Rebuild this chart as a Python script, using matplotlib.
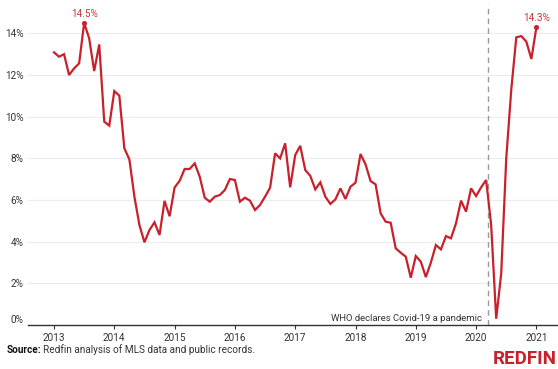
import numpy as np
import matplotlib.pyplot as plt

# monthly share of listings (%), Jan 2013 through Jan 2021
START_YEAR = 2013
share_pct = [
    13.09, 12.88, 13.00, 12.00, 12.32, 12.56, 14.50, 13.76, 12.19, 13.47, 9.76, 9.57,
    11.23, 11.01, 8.48, 7.95, 6.16, 4.80, 3.97, 4.56, 4.93, 4.32, 5.96, 5.22,
    6.60, 6.92, 7.49, 7.49, 7.76, 7.12, 6.11, 5.92, 6.16, 6.24, 6.48, 7.01,
    6.96, 5.92, 6.11, 5.97, 5.52, 5.76, 6.16, 6.59, 8.24, 8.00, 8.72, 6.61,
    8.16, 8.60, 7.44, 7.16, 6.51, 6.85, 6.16, 5.81, 6.03, 6.56, 6.05, 6.64,
    6.83, 8.21, 7.71, 6.91, 6.75, 5.36, 4.96, 4.91, 3.68, 3.47, 3.28, 2.27,
    3.31, 3.04, 2.30, 3.00, 3.84, 3.63, 4.27, 4.16, 4.88, 5.97, 5.44, 6.56,
    6.19, 6.61, 6.96, 4.80, 0.30, 2.48, 8.00, 11.30, 13.81, 13.87, 13.60, 12.77,
    14.30,
]
year_ticks = list(range(2013, 2022))
pct_ticks = list(range(0, 16, 2))
PANDEMIC_DATE = 2020 + 70 / 366   # WHO declaration, March 11 2020
PANDEMIC_NOTE = 'WHO declares Covid-19 a pandemic'

RED = '#c9202b'
LABEL_RED = '#c23a3a'
TEXT = '#333333'
GRID = '#ececec'

plt.rcParams['font.family'] = ['Roboto', 'DejaVu Sans']

months = START_YEAR + np.arange(len(share_pct)) / 12
values = np.array(share_pct)

fig = plt.figure(figsize=(5.58, 3.69), dpi=100)
ax = fig.add_axes([28 / 558, 44 / 369, 530 / 558, 321 / 369])

ax.plot(months, values, color=RED, lw=1.6, solid_joinstyle='miter', zorder=3)

# call out the 2013 peak and the latest value
for idx in (int(np.argmax(values[:24])), len(values) - 1):
    ax.plot(months[idx], values[idx], 'o', ms=2.6, color=RED, zorder=4)
    ax.text(months[idx], values[idx] + 0.18, f'{values[idx]:.1f}%',
            ha='center', va='bottom', fontsize=7.2, color=LABEL_RED)

ax.axvline(PANDEMIC_DATE, color='#9a9a9a', lw=1, ls=(0, (4, 3)), zorder=2)
ax.text(PANDEMIC_DATE - 0.1, 0.32, PANDEMIC_NOTE, ha='right', va='center',
        fontsize=6.8, color=TEXT)

ax.set_xlim(START_YEAR - 26 / 60.3, START_YEAR + 504 / 60.3)
ax.set_ylim(0, 15.41)
ax.set_xticks(year_ticks)
ax.set_xticklabels([str(y) for y in year_ticks])
ax.set_yticks(pct_ticks)
ax.set_yticklabels([f'{p}%' for p in pct_ticks])
ax.tick_params(axis='x', length=3, width=0.8, color=TEXT, pad=2.5,
               labelsize=7.2, labelcolor=TEXT)
ax.tick_params(axis='y', length=0, pad=3.4, labelsize=7.2, labelcolor=TEXT)
ax.get_yticklabels()[0].set_verticalalignment('bottom')

ax.grid(axis='y', color=GRID, lw=0.8, zorder=0)
for side in ('top', 'right', 'left'):
    ax.spines[side].set_visible(False)
ax.spines['bottom'].set_color(TEXT)
ax.spines['bottom'].set_linewidth(1)
ax.spines['bottom'].set_zorder(5)

# footer: source note and wordmark
renderer = fig.canvas.get_renderer()
src = fig.text(7 / 558, 19 / 369, 'Source:', fontsize=7.2, fontweight='bold',
               color='#111111', va='center')
bb = src.get_window_extent(renderer)
fig.text(bb.x1 / fig.bbox.width + 0.003, 19 / 369,
         'Redfin analysis of MLS data and public records.',
         fontsize=7.2, color=TEXT, va='center')
fig.text(557 / 558, 10 / 369, 'REDFIN', fontsize=13.5, fontweight='bold',
         color=RED, va='center', ha='right')

fig.savefig('out.png', dpi=100)
